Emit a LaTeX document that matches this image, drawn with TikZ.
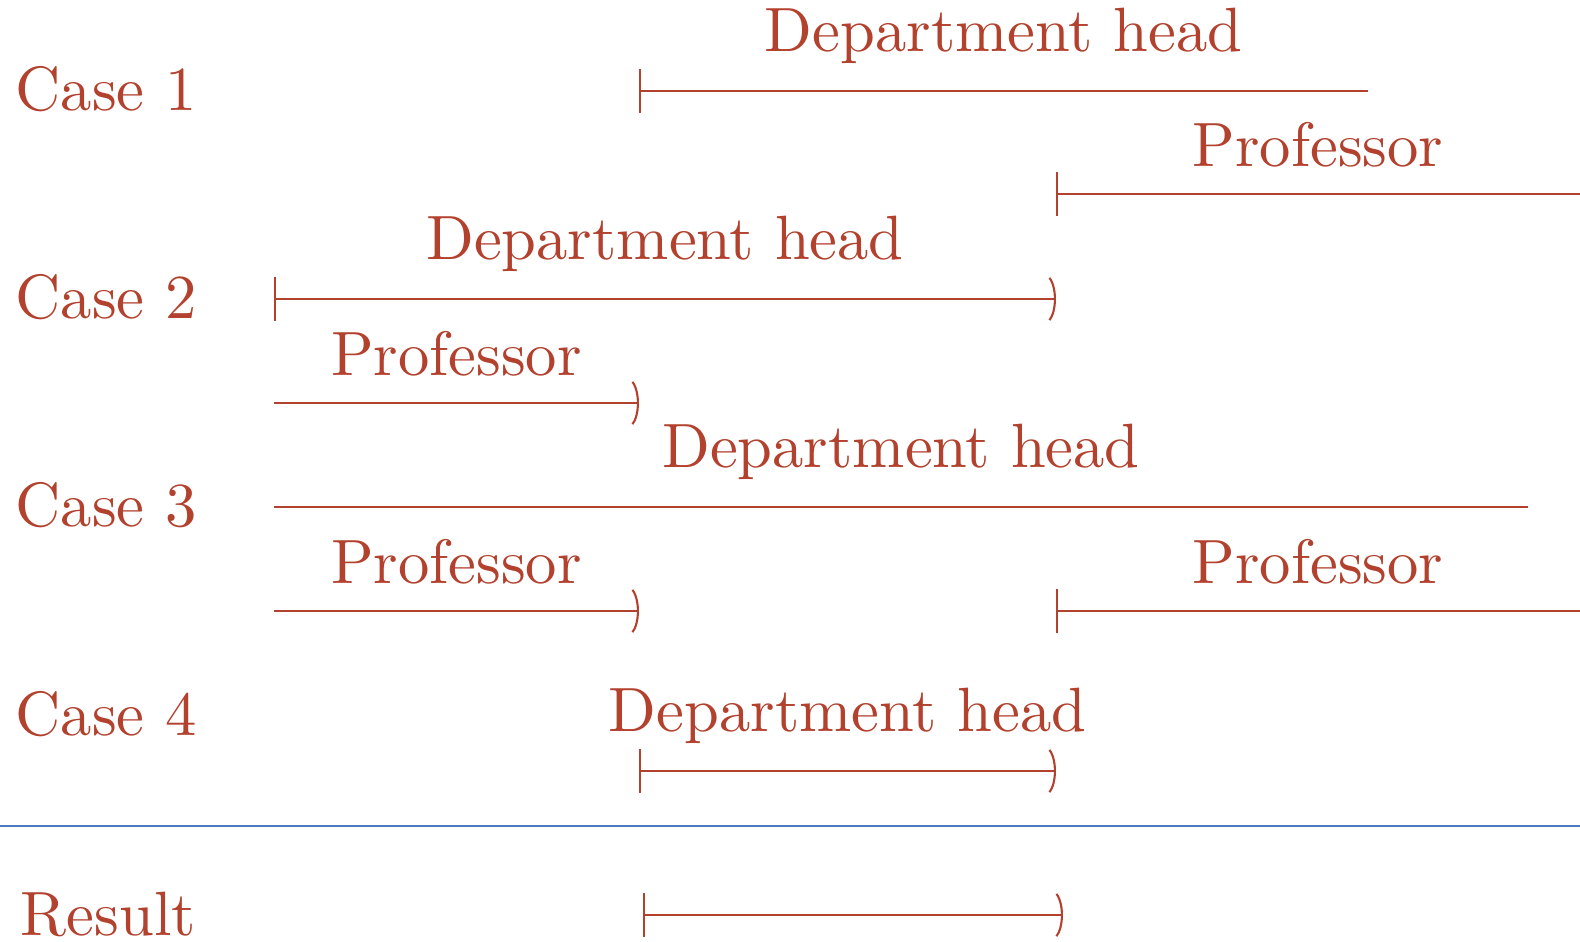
\documentclass[tikz,border=0pt]{standalone}
\usepackage{fontspec}
\setmainfont{lmroman10-regular.otf}
\usepackage{xcolor}
\definecolor{brickRed}{HTML}{B2412E}
\definecolor{ruleBlue}{HTML}{4A7BC0}
\usetikzlibrary{arrows.meta}
\tikzset{
  caselabel/.style={
    anchor=base west,
    inner sep=0pt,
    text=brickRed,
    font=\fontsize{17.8}{20}\selectfont
  },
  spanlabel/.style={
    anchor=south,
    inner sep=2.6mm,
    text=brickRed,
    font=\fontsize{17.8}{20}\selectfont
  },
  spanline/.style={
    draw=brickRed,
    line width=0.6pt
  },
  leftclosed/.style={spanline, {Bar[width=4.4mm]}-},
  rightopen/.style={spanline, -{Parenthesis[width=5.1mm,length=1.2mm]}},
  bothends/.style={spanline, {Bar[width=4.4mm]}-{Parenthesis[width=5.1mm,length=1.2mm]}},
  dividerline/.style={
    draw=ruleBlue,
    line width=0.8pt
  }
}

\begin{document}
\begin{tikzpicture}[x=0.01cm,y=-0.01cm]
  \useasboundingbox (0,0) rectangle (1580,941);
  % row labels
  \node[caselabel] (case1) at (15,110) {Case 1};
  \node[caselabel] (case2) at (15,318) {Case 2};
  \node[caselabel] (case3) at (15,526) {Case 3};
  \node[caselabel] (case4) at (15,735) {Case 4};
  \node[caselabel] (result) at (20,935) {Result};
  % interval end points
  \coordinate (dh1a) at (639,91);   \coordinate (dh1b) at (1368,91);
  \coordinate (pr1a) at (1056,194); \coordinate (pr1b) at (1580,194);
  \coordinate (dh2a) at (274,299);  \coordinate (dh2b) at (1056,299);
  \coordinate (pr2a) at (274,403);  \coordinate (pr2b) at (639,403);
  \coordinate (dh3a) at (274,507);  \coordinate (dh3b) at (1528,507);
  \coordinate (pr3a) at (274,611);  \coordinate (pr3b) at (639,611);
  \coordinate (pr3c) at (1056,611); \coordinate (pr3d) at (1580,611);
  \coordinate (dh4a) at (639,771);  \coordinate (dh4b) at (1056,771);
  \coordinate (resa) at (643,915);  \coordinate (resb) at (1063,915);
  % case 1
  \draw[leftclosed] (dh1a) -- node[spanlabel] (dh1) {Department head} (dh1b);
  \draw[leftclosed] (pr1a) -- node[spanlabel] (pr1) {Professor} (pr1b);
  % case 2
  \draw[bothends] (dh2a) -- node[spanlabel] (dh2) {Department head} (dh2b);
  \draw[rightopen] (pr2a) -- node[spanlabel] (pr2) {Professor} (pr2b);
  % case 3
  \draw[spanline] (dh3a) -- node[spanlabel] (dh3) {Department head} (dh3b);
  \draw[rightopen] (pr3a) -- node[spanlabel] (pr3) {Professor} (pr3b);
  \draw[leftclosed] (pr3c) -- node[spanlabel] (pr3r) {Professor} (pr3d);
  % case 4
  \draw[bothends] (dh4a) -- node[spanlabel] (dh4) {Department head} (dh4b);
  % divider and result
  \coordinate (ruleL) at (0,826); \coordinate (ruleR) at (1580,826);
  \draw[dividerline] (ruleL) -- (ruleR);
  \draw[bothends] (resa) -- (resb);
\end{tikzpicture}
\end{document}
